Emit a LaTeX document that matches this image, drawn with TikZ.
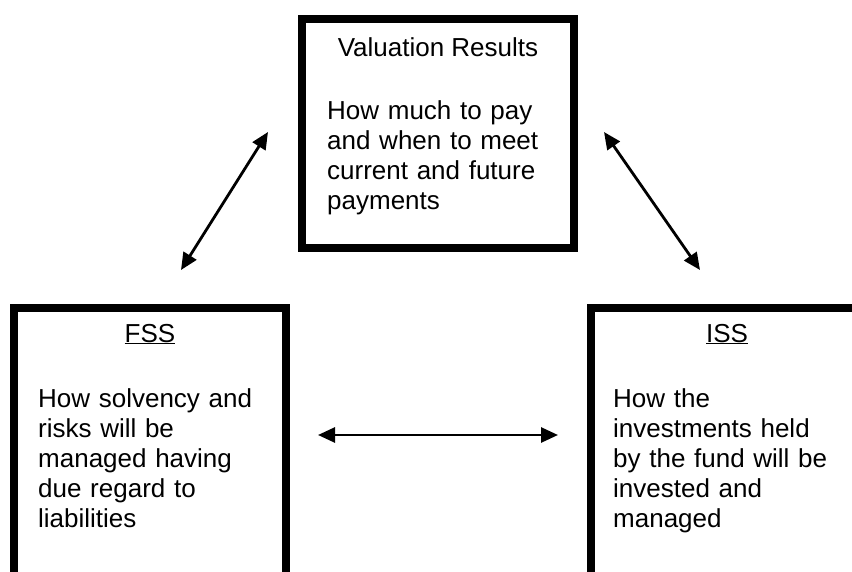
\documentclass[tikz,border=0pt]{standalone}
\usepackage{fontspec}
\setmainfont{Liberation Sans}
\usetikzlibrary{arrows.meta}
\begin{document}
\begin{tikzpicture}[x=1pt,y=-1pt,
  box/.style={draw=black, line width=8pt, fill=white, inner sep=0pt},
  txt/.style={font=\fontsize{26}{30}\selectfont, inner sep=0pt, align=left},
  ttl/.style={font=\fontsize{26}{30}\selectfont, inner sep=0pt, anchor=base},
  arr/.style={line width=2.8pt, {Triangle[length=17pt,width=15pt]}-{Triangle[length=17pt,width=15pt]}}]
\useasboundingbox (0,0) rectangle (852,572);
\clip (0,0) rectangle (852,572);
% boxes
\node[box, minimum width=272pt, minimum height=229pt] (val) at (438,133.5) {};
\node[box, minimum width=272pt, minimum height=312pt] (fss) at (150,464) {};
\node[box, minimum width=272pt, minimum height=312pt] (iss) at (727,464) {};
% titles
\node[ttl] (valt) at (438,57) {Valuation Results};
\node[ttl] (fsst) at (150,342) {\underline{FSS}};
\node[ttl] (isst) at (727,342) {\underline{ISS}};
% bodies
\node[txt, text width=250pt, anchor=base west] (valb) at (327,120)
  {How much to pay\\and when to meet\\current and future\\payments};
\node[txt, text width=250pt, anchor=base west] (fssb) at (38,407)
  {How solvency and\\risks will be\\managed having\\due regard to\\liabilities};
\node[txt, text width=250pt, anchor=base west] (issb) at (613,407)
  {How the\\investments held\\by the fund will be\\invested and\\managed};
% connectors
\coordinate (l1) at (268,132);
\coordinate (l2) at (181,270);
\coordinate (r1) at (604,132);
\coordinate (r2) at (700,270);
\coordinate (h1) at (318,435);
\coordinate (h2) at (558,435);
\draw[arr] (l1) -- (l2);
\draw[arr] (r1) -- (r2);
\draw[arr] (h1) -- (h2);
\end{tikzpicture}
\end{document}
